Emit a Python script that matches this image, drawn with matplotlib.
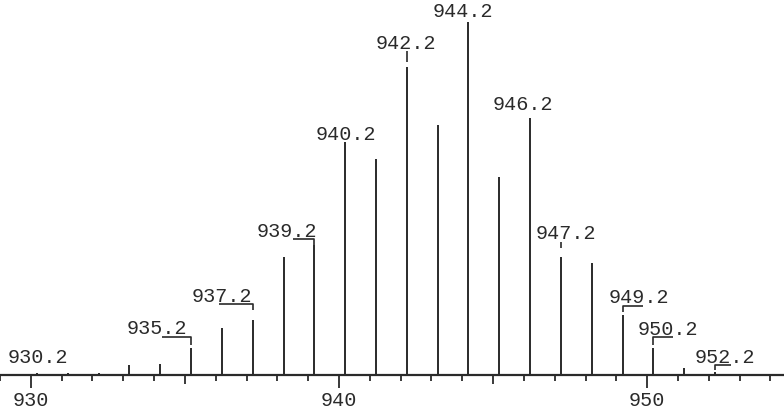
import matplotlib
matplotlib.use('Agg')
import matplotlib.pyplot as plt

# ---- data ----
masses = [930.2, 931.2, 932.2, 933.2, 934.2, 935.2, 936.2, 937.2, 938.2, 939.2,
          940.2, 941.2, 942.2, 943.2, 944.2, 945.2, 946.2, 947.2, 948.2, 949.2,
          950.2, 951.2, 952.2]
intensities = [0.6, 0.5, 0.5, 2.8, 3.1, 7.6, 13.3, 15.6, 33.4, 36.8,
               66.0, 61.2, 87.3, 70.8, 100.0, 56.1, 72.8, 33.4, 31.7, 17.0,
               7.6, 2.0, 0.8]
labeled_masses = [930.2, 935.2, 937.2, 939.2, 940.2, 942.2, 944.2, 946.2,
                  947.2, 949.2, 950.2, 952.2]
label_texts = ['930.2', '935.2', '937.2', '939.2', '940.2', '942.2', '944.2',
               '946.2', '947.2', '949.2', '950.2', '952.2']
major_ticks = [930, 940, 950]
major_tick_labels = ['930', '940', '950']
minor_ticks = list(range(929, 955))
mid_ticks = [935, 945]

# ---- layout (pixel offsets relative to peak top) ----
# (text dx, text dy, ha, leader) ; leader = (x_end, y_h, y_low) or None
label_layout = [
    (1, 10, 'center', None),
    (-4, 14, 'right', (-29, 11, 3)),
    (0, 18, 'right', (-34, 16, 10)),
    (3, 8, 'right', (-21, 6, 0)),
    (1, 2, 'center', None),
    (-1, 18, 'center', (0, 16, 5)),
    (-5, 5, 'center', None),
    (-7, 8, 'center', None),
    (5, 18, 'center', (0, 15, 9)),
    (-14, 12, 'left', (21, 9, 3)),
    (-16, 13, 'left', (20, 11, 3)),
    (-20, 9, 'left', (16, 7, 2)),
]

W, H = 784, 412
base_px = 37
fig = plt.figure(figsize=(W / 100, H / 100), dpi=100)
ax = fig.add_axes([0, base_px / H, 1, (H - base_px) / H])

xmin, xmax = 929.03, 954.44
ymin, ymax = 0, 106.2
ax.set_xlim(xmin, xmax)
ax.set_ylim(ymin, ymax)
ux = (xmax - xmin) / W
uy = (ymax - ymin) / (H - base_px)

ink = '#2a2a2a'
ax.vlines(masses, 0, intensities, color=ink, lw=1.4)

font = dict(family=['Liberation Mono', 'DejaVu Sans Mono'], size=14.5, color=ink)
inten = dict(zip(masses, intensities))
for m, txt, (dx, dy, ha, lead) in zip(labeled_masses, label_texts, label_layout):
    top = inten[m]
    ax.text(m + dx * ux, top + dy * uy, txt, ha=ha, va='baseline', **font)
    if lead is not None:
        xe, yh, yl = lead
        ax.plot([m + xe * ux, m, m], [top + yh * uy, top + yh * uy, top + yl * uy],
                color=ink, lw=1.2, solid_capstyle='butt')

for s in ['top', 'right', 'left']:
    ax.spines[s].set_visible(False)
ax.spines['bottom'].set_color(ink)
ax.spines['bottom'].set_linewidth(1.6)
ax.set_yticks([])
ticks_all = sorted(set(minor_ticks))
ax.set_xticks(ticks_all)
ax.set_xticklabels([major_tick_labels[major_ticks.index(t)] if t in major_ticks else ''
                    for t in ticks_all])
ax.tick_params(axis='x', direction='out', length=4.3, width=1.3, color=ink,
               pad=7.5, labelsize=14.5, labelcolor=ink)
for lab in ax.get_xticklabels():
    lab.set_family(['Liberation Mono', 'DejaVu Sans Mono'])
for t, tick in zip(ticks_all, ax.xaxis.get_major_ticks()):
    if t in major_ticks:
        tick.tick1line.set_markersize(9)
    elif t in mid_ticks:
        tick.tick1line.set_markersize(6.5)

fig.savefig('out.png', dpi=100)
